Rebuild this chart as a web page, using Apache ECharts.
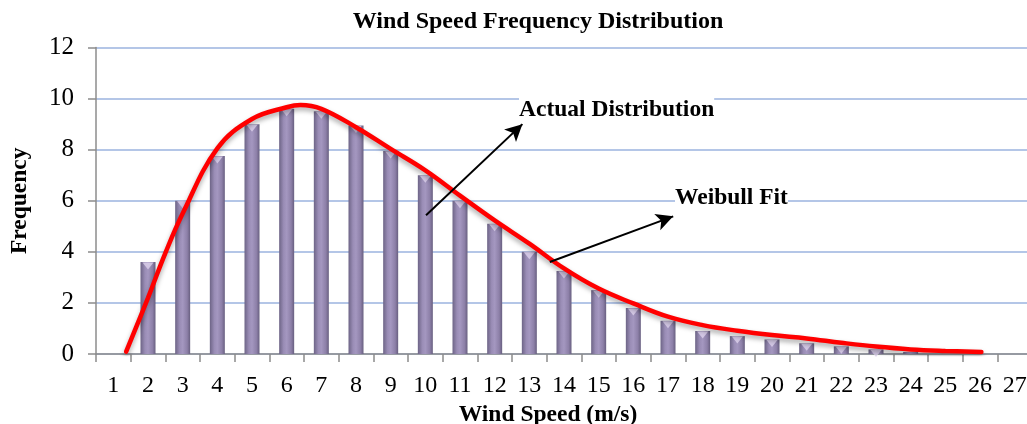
<!DOCTYPE html>
<html>
<head>
<meta charset="utf-8">
<script src="https://cdn.jsdelivr.net/npm/echarts@6/dist/echarts.min.js"></script>
<style>
html,body{margin:0;padding:0;background:#fff;}
#chart{width:1027px;height:424px;}
</style>
</head>
<body>
<div id="chart"></div>
<script>
// Categories (wind speed, m/s)
var windSpeeds = ['1','2','3','4','5','6','7','8','9','10','11','12','13','14','15','16','17','18','19','20','21','22','23','24','25','26','27'];
// Actual distribution (bar heights)
var actualFreq = [null, 3.6, 6.0, 7.75, 9.0, 9.6, 9.5, 8.95, 7.95, 7.0, 6.0, 5.1, 4.0, 3.25, 2.5, 1.8, 1.3, 0.9, 0.7, 0.57, 0.42, 0.3, 0.18, 0.08, null, null, null];
// Weibull fit curve: [wind speed, frequency]
var weibullX = [1.37, 2, 2.5, 3, 4, 5, 6, 6.4, 7, 8, 9, 10, 11, 12, 13, 14, 15, 16, 17, 18, 19, 20, 21, 22, 23, 24, 25, 26.04];
var weibullY = [0.09, 2.2, 3.95, 5.5, 8.05, 9.2, 9.66, 9.75, 9.6, 8.88, 8.03, 7.19, 6.2, 5.23, 4.32, 3.35, 2.56, 1.98, 1.46, 1.13, 0.91, 0.74, 0.61, 0.44, 0.29, 0.18, 0.12, 0.08];
// Y ticks
var yMin = 0, yMax = 12, yStep = 2;
// Annotation arrows: [from, to] in data coordinates
var actualArrow = [[10.02, 5.43], [12.8, 9.0]];
var weibullArrow = [[13.59, 3.6], [17.15, 5.39]];

var weibullData = weibullX.map(function (x, i) { return [x, weibullY[i]]; });
var capData = actualFreq.map(function (v) { return (v != null && v > 0.12) ? v : null; });

var FONT = '"Liberation Serif", "Times New Roman", serif';
var chart = echarts.init(document.getElementById('chart'));
var option = {
  animation: false,
  backgroundColor: '#ffffff',
  title: {
    text: 'Wind Speed Frequency Distribution',
    left: 533, top: 5, textAlign: 'center',
    textStyle: { fontFamily: FONT, fontWeight: 'bold', fontSize: 24, color: '#000' }
  },
  grid: { left: 96, top: 47.5, width: 936, height: 306.5, containLabel: false, outerBoundsMode: 'none' },
  xAxis: [{
    type: 'category',
    data: windSpeeds,
    boundaryGap: true,
    name: 'Wind Speed (m/s)',
    nameLocation: 'middle',
    nameGap: 45,
    nameTextStyle: { fontFamily: FONT, fontWeight: 'bold', fontSize: 23.5, color: '#000', padding: [0, 32, 0, 0] },
    axisLine: { lineStyle: { color: '#8c8c8c', width: 1.5 } },
    axisTick: { show: true, alignWithLabel: false, length: 8, lineStyle: { color: '#8c8c8c', width: 1.5 } },
    axisLabel: { fontFamily: FONT, fontSize: 24, color: '#000', margin: 20, interval: 0 },
    splitLine: { show: false }
  }, {
    type: 'value',
    min: 0.5, max: 27.5,
    show: false
  }],
  yAxis: {
    type: 'value',
    min: yMin, max: yMax, interval: yStep,
    name: 'Frequency',
    nameLocation: 'middle',
    nameGap: 64,
    nameRotate: 90,
    nameTextStyle: { fontFamily: FONT, fontWeight: 'bold', fontSize: 23.5, color: '#000' },
    axisLine: { show: true, lineStyle: { color: '#8c8c8c', width: 1.5 } },
    axisTick: { show: true, length: 8, lineStyle: { color: '#8c8c8c', width: 1.5 } },
    axisLabel: { fontFamily: FONT, fontSize: 25, color: '#000', margin: 22 },
    splitLine: { lineStyle: { color: '#b4c6e7', width: 2 } }
  },
  series: [{
    type: 'bar',
    name: 'Actual Distribution',
    data: actualFreq,
    barWidth: 15,
    itemStyle: {
      color: new echarts.graphic.LinearGradient(0, 0, 1, 0, [
        { offset: 0, color: '#6d6486' },
        { offset: 0.3, color: '#9a8db6' },
        { offset: 0.5, color: '#a497c0' },
        { offset: 0.8, color: '#8d80a8' },
        { offset: 1, color: '#685f80' }
      ])
    },
    z: 2
  }, {
    type: 'scatter',
    data: capData,
    symbol: 'triangle',
    symbolRotate: 180,
    symbolSize: [11, 7],
    symbolOffset: [0, 4],
    itemStyle: { color: '#ddd2ec' },
    silent: true,
    z: 3
  }, {
    type: 'line',
    name: 'Weibull Fit',
    xAxisIndex: 1,
    data: weibullData,
    smooth: 0.4,
    showSymbol: false,
    lineStyle: { color: '#ff0000', width: 4.5, cap: 'round', shadowColor: 'rgba(0,0,0,0.35)', shadowBlur: 5, shadowOffsetY: 3 },
    z: 4,
    markLine: {
      silent: true,
      symbol: ['none', 'arrow'],
      symbolSize: [13, 17],
      label: { show: false },
      lineStyle: { color: '#000', width: 2, type: 'solid' },
      data: [
        [{ coord: actualArrow[0] }, { coord: actualArrow[1] }],
        [{ coord: weibullArrow[0] }, { coord: weibullArrow[1] }]
      ]
    }
  }],
  graphic: [{
    type: 'text', left: 519, top: 98, z: 100,
    style: { text: 'Actual Distribution', font: 'bold 23.5px ' + FONT, fill: '#000', backgroundColor: '#fff' }
  }, {
    type: 'text', left: 675, top: 186, z: 100,
    style: { text: 'Weibull Fit', font: 'bold 23.5px ' + FONT, fill: '#000', backgroundColor: '#fff' }
  }]
};
chart.setOption(option);
</script>
</body>
</html>
